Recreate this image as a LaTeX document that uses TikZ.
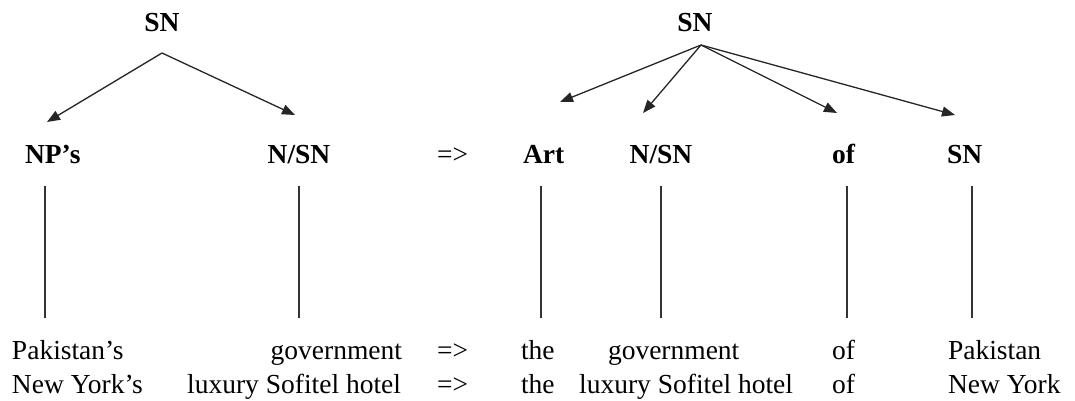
\documentclass[tikz,border=0pt]{standalone}
\usepackage{fontspec}
\setmainfont{Liberation Serif}
\usetikzlibrary{arrows.meta}
\begin{document}
\begin{tikzpicture}[x=1pt,y=-1pt,
  txt/.style={inner sep=0pt,outer sep=0pt,font=\fontsize{27.5}{33}\selectfont},
  lbl/.style={txt,font=\fontsize{27.5}{33}\selectfont\bfseries},
  arr/.style={line width=1.3pt,black!85,-{Triangle[length=13pt,width=10pt]}},
  stem/.style={line width=1.2pt,black!80}]
\useasboundingbox (0,0) rectangle (1075,401);
% top nodes
\node[lbl,anchor=base] (snL) at (162,32) {SN};
\node[lbl,anchor=base] (snR) at (695,32) {SN};
\coordinate (oL) at (162,53);
\coordinate (oR) at (701,45);
% label row
\node[lbl,anchor=base west] (np) at (25,163) {NP’s};
\node[lbl,anchor=base] (nsnL) at (299,163) {N/SN};
\node[txt,anchor=base west] (ar1) at (437,163) {=>};
\node[lbl,anchor=base west] (art) at (523,163) {Art};
\node[lbl,anchor=base] (nsnR) at (661,163) {N/SN};
\node[lbl,anchor=base west] (ofL) at (832,163) {of};
\node[lbl,anchor=base west] (snB) at (947,163) {SN};
% arrow tips
\coordinate (tNP) at (47,122);
\coordinate (tNSNL) at (295,115);
\coordinate (tArt) at (560,102);
\coordinate (tNSNR) at (643,113);
\coordinate (tOf) at (837,113);
\coordinate (tSN) at (955,115);
\draw[arr] (oL) -- (tNP);
\draw[arr] (oL) -- (tNSNL);
\draw[arr] (oR) -- (tArt);
\draw[arr] (oR) -- (tNSNR);
\draw[arr] (oR) -- (tOf);
\draw[arr] (oR) -- (tSN);
% stems
\foreach \n/\x in {a/45,b/299,c/541,d/661,e/847,f/972}{
  \coordinate (s\n1) at (\x,186);
  \coordinate (s\n2) at (\x,318);
  \draw[stem] (s\n1) -- (s\n2);
}
% bottom rows
\node[txt,anchor=base west] (w11) at (12,359) {Pakistan’s};
\node[txt,anchor=base east] (w12) at (402,359) {government};
\node[txt,anchor=base west] (w13) at (437,359) {=>};
\node[txt,anchor=base west] (w14) at (521,359) {the};
\node[txt,anchor=base west] (w15) at (608,359) {government};
\node[txt,anchor=base west] (w16) at (832,359) {of};
\node[txt,anchor=base west] (w17) at (948,359) {Pakistan};
\node[txt,anchor=base west] (w21) at (12,393) {New York’s};
\node[txt,anchor=base east] (w22) at (401,393) {luxury Sofitel hotel};
\node[txt,anchor=base west] (w23) at (437,393) {=>};
\node[txt,anchor=base west] (w24) at (521,393) {the};
\node[txt,anchor=base east] (w25) at (793,393) {luxury Sofitel hotel};
\node[txt,anchor=base west] (w26) at (832,393) {of};
\node[txt,anchor=base west] (w27) at (948,393) {New York};
\end{tikzpicture}
\end{document}
